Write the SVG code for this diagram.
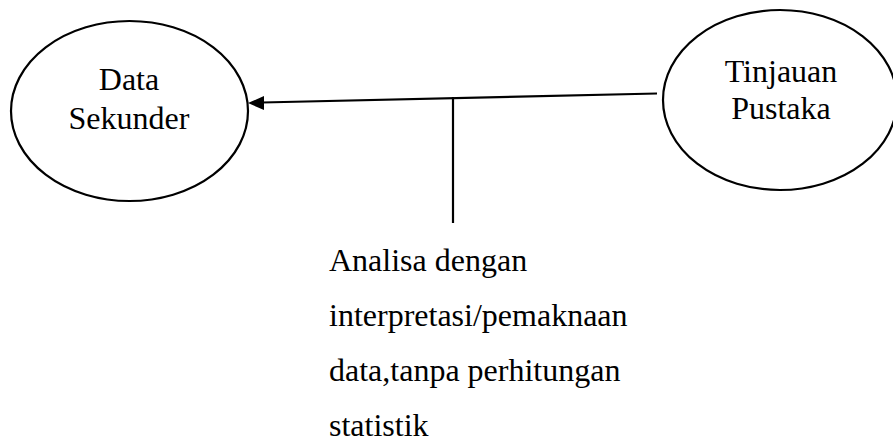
<svg xmlns="http://www.w3.org/2000/svg" width="893" height="445" viewBox="0 0 893 445">
<style>
.node{fill:none;stroke:#000;stroke-width:2.2}
.t{font-family:"Liberation Serif","Times New Roman",serif;font-size:32px;fill:#000}
.c{text-anchor:middle}
.ln{stroke:#000;stroke-width:2.2;fill:none}
</style>
<rect width="893" height="445" fill="#fff"/>
<g id="data-sekunder">
<ellipse class="node" cx="129.5" cy="111" rx="118.5" ry="90"/>
<text class="t c" x="129" y="90">Data</text>
<text class="t c" x="129" y="129">Sekunder</text>
</g>
<g id="tinjauan-pustaka">
<ellipse class="node" cx="780" cy="100" rx="117" ry="90"/>
<text class="t c" x="781" y="82">Tinjauan</text>
<text class="t c" x="781" y="119">Pustaka</text>
</g>
<g id="connectors">
<line class="ln" x1="657" y1="93.5" x2="262" y2="102.5"/>
<polygon points="248,103 264,96 264,110" fill="#000"/>
<line class="ln" x1="453" y1="97" x2="453" y2="223"/>
</g>
<g id="label">
<text class="t" x="329" y="271">Analisa dengan</text>
<text class="t" x="329" y="326">interpretasi/pemaknaan</text>
<text class="t" x="329" y="381">data,tanpa perhitungan</text>
<text class="t" x="329" y="436">statistik</text>
</g>
</svg>
